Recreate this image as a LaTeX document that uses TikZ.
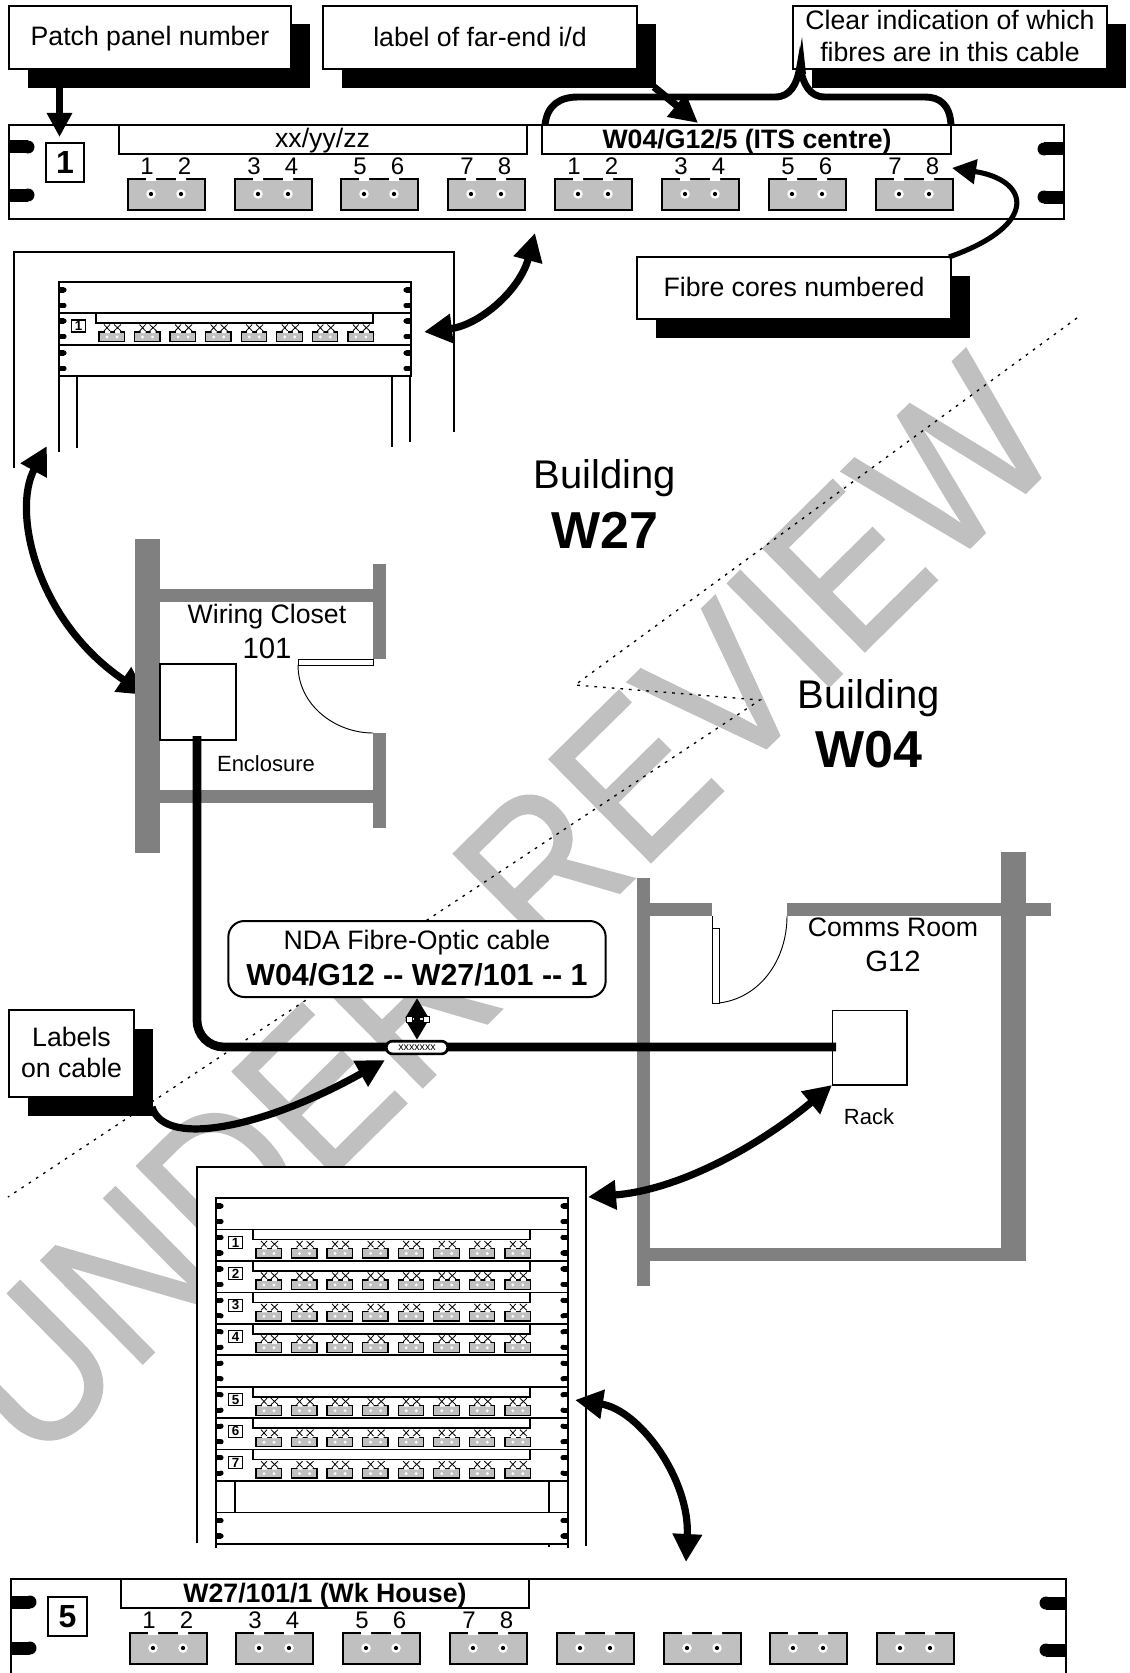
\documentclass[tikz,border=0pt]{standalone}
\usepackage{fontspec}
\setmainfont{Liberation Sans}
\newfontfamily\wmfont[FakeBold=1.2]{Liberation Sans}
\usetikzlibrary{arrows.meta}
\definecolor{wall}{HTML}{808080}
\definecolor{mark}{HTML}{C0C0C0}
\definecolor{port}{HTML}{C0C0C0}
\newcommand\fsz[1]{\fontsize{#1}{#1}\selectfont}
\tikzset{
  x=0.75pt,y=-0.75pt,
  labbox/.style={draw=black,fill=white,line width=0.8pt,inner sep=0pt},
  labtext/.style={inner sep=0pt,align=center,font=\fontsize{20}{23.5}\selectfont},
  stripbox/.style={draw=black,fill=white,line width=1.5pt,inner sep=0pt},
  txt/.style={inner sep=0pt,align=center},
  bigarrow/.style={line width=5.4pt,-{Triangle[length=21pt,width=21pt]}},
  dblarrow/.style={line width=5.4pt,{Triangle[length=21pt,width=21pt]}-{Triangle[length=21pt,width=21pt]}},
  railline/.style={line width=1pt},
  rackline/.style={line width=1.2pt},
}
% name x1 y1 x2 y2 text text-centre-y
\newcommand\shbox[7]{%
  \fill[black] ({#2+19},{#3+18.5}) rectangle ({#4+19},{#5+19});
  \pgfmathsetmacro\bw{(#4-#2)*.75}\pgfmathsetmacro\bh{(#5-#3)*.75}
  \node[labbox,minimum width=\bw pt,minimum height=\bh pt] (#1) at ({(#2+#4)/2},{(#3+#5)/2}) {};
  \node[labtext] (#1T) at ({(#2+#4)/2},#7) {#6};}
% large connector
\newcommand\bigport[2]{%
  \draw[fill=port,line width=1.6pt] (#1,#2) rectangle ({#1+77},{#2+31});
  \fill[white] ({#1+18},{#2-1.5}) rectangle ({#1+28},{#2+2}) ({#1+48},{#2-1.5}) rectangle ({#1+58},{#2+2});
  \foreach \h in {23,53}{\fill[white] ({#1+\h},{#2+15}) circle[radius=3.6pt];\fill[black] ({#1+\h},{#2+15}) circle[radius=1.6pt];}}
\newcommand\ear[5]{%
  \fill ({#1},{#2-#5}) rectangle ({#1+#3*#4},{#2+#5});
  \fill ({#1+#3*#4},{#2}) circle[radius=#5*0.75pt];}
\newcommand\bayears[3]{%
  \foreach \e in {8,23.5}{\ear{#1}{#3+\e}{1}{5}{2.6}\ear{#2}{#3+\e}{-1}{5}{2.6}}}
\newcommand\minibay[3]{%
  \node[draw=black,line width=0.8pt,fill=white,inner sep=0pt,minimum width=10pt,minimum height=9pt,font=\bfseries\fsz{10}] (mini#3x#1) at ({#1+19.5},{#2+13}) {#3};
  \draw[fill=white,line width=1.2pt] ({#1+37},{#2}) rectangle ({#1+314},{#2+10});
  \foreach \i in {0,...,7}{
    \pgfmathsetmacro\xx{#1+40+35.55*\i}
    \draw[line width=0.6pt] ({\xx+5},{#2+11.5}) -- ({\xx+11},{#2+18}) ({\xx+11},{#2+11.5}) -- ({\xx+5},{#2+18});
    \draw[line width=0.6pt] ({\xx+15},{#2+11.5}) -- ({\xx+22},{#2+18}) ({\xx+22},{#2+11.5}) -- ({\xx+15},{#2+18});
    \draw[fill=port,line width=1pt] ({\xx},{#2+19}) rectangle ({\xx+25.5},{#2+28.5});
    \fill[white] ({\xx+6},{#2+18}) rectangle ({\xx+11},{#2+20}) ({\xx+16},{#2+18}) rectangle ({\xx+21},{#2+20});
    \fill[white] ({\xx+8},{#2+24}) circle[radius=1.2pt] ({\xx+18},{#2+24}) circle[radius=1.2pt];
  }}
\begin{document}
\begin{tikzpicture}
\useasboundingbox (0,0) rectangle (1129,1673);
\fill[white] (0,0) rectangle (1129,1673);
% watermark
\node[text=mark,inner sep=0pt,rotate=44.6,font=\wmfont\fontsize{157}{157}\selectfont] (wm) at (502,909) {\scalebox{0.89}[1]{UNDER REVIEW}};
% dotted boundary
\coordinate (d1) at (1077,318);\coordinate (d2) at (575,685);\coordinate (d3) at (760,700);\coordinate (d4) at (8,1197);
\draw[line width=1pt,dash pattern=on 2pt off 4.5pt] (d1) -- (d2) -- (d3) -- (d4);

% callout boxes
\shbox{bpatch}{9}{6}{291}{69}{Patch panel number}{39}
\shbox{blabel}{323}{6}{637}{69}{label of far-end i/d}{37}
\shbox{bclear}{793}{6}{1107}{69}{Clear indication of which\\fibres are in this cable}{36}

% top panel
\draw[fill=white,line width=1.5pt] (9,125) rectangle (1064,219);
\ear{9}{147}{1}{19}{6.5}\ear{9}{195}{1}{19}{6.5}
\ear{1064}{149}{-1}{20}{6.5}\ear{1064}{197}{-1}{20}{6.5}
\node[stripbox,minimum width=306pt,minimum height=22pt] (strip1) at (322.5,139.5) {};
\node[txt,font=\fsz{20}] (strip1T) at (322.5,140.5) {xx/yy/zz};
\node[stripbox,minimum width=306.5pt,minimum height=22pt] (strip2) at (746.5,139.5) {};
\node[txt,font=\bfseries\fsz{20}] (strip2T) at (747,141.5) {W04/G12/5 (ITS centre)};
\node[draw=black,line width=1.5pt,fill=white,inner sep=0pt,minimum width=29pt,minimum height=29pt,font=\bfseries\fsz{24}] (num1) at (65,162.5) {1};
\foreach \p [count=\c] in {128,235,341,448,555,662,769,876}{\bigport{\p}{179}
  \pgfmathtruncatemacro\na{2*mod(\c-1,4)+1}\pgfmathtruncatemacro\nb{\na+1}
  \node[txt,font=\fsz{18}] (ta\c) at ({\p+19},166.5) {\na};
  \node[txt,font=\fsz{18}] (tb\c) at ({\p+56.5},166.5) {\nb};}

% bracket
\coordinate (brL) at (545,125);\coordinate (brR) at (951,125);\coordinate (brT) at (802,37);
\draw[line width=5.2pt,line cap=butt] (brL) .. controls (547,105) and (560,97) .. (578,97) -- (775,97) .. controls (790,97) and (797,85) .. (800,66) .. controls (803,85) and (810,97) .. (825,97) -- (925,97) .. controls (940,97) and (950,105) .. (brR);
\fill (brT) -- (796,74) -- (806,74) -- cycle;

% top-panel arrows
\coordinate (aPatch) at (59.5,87);\coordinate (aPatchT) at (59.5,137);
\draw[line width=4.8pt,-{Triangle[length=18pt,width=18pt]}] (aPatch) -- (aPatchT);
\coordinate (aLab) at (654,87);\coordinate (aLabT) at (698,123);
\draw[bigarrow] (aLab) -- (aLabT);

% fibre box
\shbox{bfibre}{637}{257}{951}{319}{Fibre cores numbered}{287}
\coordinate (aFib) at (949,257);\coordinate (aFibT) at (952,168);
\draw[line width=3.8pt,-{Triangle[length=18pt,width=18pt]}] (aFib) .. controls (1040,225) and (1030,180) .. (aFibT);

% upper rack in enclosure
\draw[fill=white,line width=1.5pt] (14,468) -- (14,252) -- (454,252) -- (454,432);
\draw[rackline] (59,282) rectangle (411,376) (59,313) -- (411,313);
\draw[line width=1.5pt] (59,345) -- (411,345);
\foreach \y in {282,313,345}{\bayears{59}{411}{\y}}
\minibay{59}{313}{1}
\draw[railline] (59,376) -- (59,452) (77,376) -- (77,448) (392,376) -- (392,447) (410,376) -- (410,442);
\coordinate (uA) at (424,332);\coordinate (uB) at (535,233);
\draw[dblarrow] (uA) .. controls (480,325) and (520,290) .. (uB);
\coordinate (vA) at (47,446);\coordinate (vB) at (146,695);
\draw[dblarrow] (vA) .. controls (12,510) and (35,620) .. (vB);

% buildings
\node[txt,font=\fsz{30}] (b27a) at (605,478) {Building};
\node[txt,font=\bfseries\fsz{39}] (b27b) at (605,530) {W27};
\node[txt,font=\fsz{30}] (b04a) at (869,698) {Building};
\node[txt,font=\bfseries\fsz{39}] (b04b) at (869,750) {W04};

% wiring closet
\fill[wall] (135,539) rectangle (160,853);
\fill[wall] (160,589) rectangle (373,602);
\fill[wall] (373,564) rectangle (386,659);
\fill[wall] (373,733) rectangle (386,828);
\fill[wall] (160,790) rectangle (373,803);
\draw[fill=white,line width=0.7pt] (298,659) rectangle (373,665);
\draw[line width=0.7pt] (298,665) .. controls (298,705) and (335,733) .. (373,733);
\node[draw=black,line width=1pt,fill=white,minimum width=57pt,minimum height=57pt,inner sep=0pt] (encl) at (198,702) {};
\node[txt,font=\fsz{20}] (closet1) at (267,617) {Wiring Closet};
\node[txt,font=\fsz{22}] (closet2) at (267,648) {101};
\node[txt,font=\fsz{16.5}] (encltxt) at (266,764) {Enclosure};

% comms room
\fill[wall] (637,878) rectangle (650,1286);
\fill[wall] (650,903) rectangle (712,916);
\fill[wall] (787,903) rectangle (1051,916);
\fill[wall] (1001,852) rectangle (1026,1261);
\fill[wall] (650,1248) rectangle (1001,1261);
\draw[fill=white,line width=0.7pt] (712,928) rectangle (719,1003);
\draw[line width=0.7pt] (712,916) -- (712,928);
\draw[line width=0.7pt] (719,1003) .. controls (760,998) and (787,960) .. (787,916);
\node[draw=black,line width=1pt,fill=white,minimum width=56pt,minimum height=56pt,inner sep=0pt] (rackbox) at (869.5,1047.5) {};
\node[txt,font=\fsz{20}] (room1) at (893,927) {Comms Room};
\node[txt,font=\fsz{22}] (room2) at (893,961) {G12};
\node[txt,font=\fsz{16.5}] (racktxt) at (869,1117) {Rack};

% cable
\coordinate (cabA) at (197,736);\coordinate (cabB) at (836,1047);
\draw[line width=6.6pt,rounded corners=20pt] (cabA) -- (197,1047) -- (cabB);
\node[draw=black,fill=white,line width=2pt,rounded corners=4.5pt,minimum width=46pt,minimum height=9.5pt,inner sep=0pt,font=\fsz{8}] (tag) at (417,1047.5) {xxxxxxx};

% NDA box
\node[draw=black,fill=white,line width=1.5pt,rounded corners=12pt,minimum width=283pt,minimum height=57pt,inner sep=0pt] (nda) at (417,959) {};
\node[txt,font=\fsz{20}] (nda1) at (417,943) {NDA Fibre-Optic cable};
\node[txt,font=\bfseries\fsz{22.8}] (nda2) at (417,975) {W04/G12 -{}- W27/101 -{}- 1};
\draw[line width=3.8pt,{Triangle[length=15pt,width=16.5pt]}-{Triangle[length=15pt,width=16.5pt]}] (nda.south) -- (tag.north);
\node[draw=black,fill=white,line width=0.4pt,minimum size=4.5pt,inner sep=0pt] (hd1) at (409,1019) {};
\node[draw=black,fill=white,line width=0.4pt,minimum size=4.5pt,inner sep=0pt] (hd2) at (426,1019) {};

% labels on cable
\shbox{blabels}{9}{1010}{134}{1097}{Labels\\on cable}{1052.5}
\coordinate (aCab) at (152,1107);\coordinate (aCabT) at (385,1060);
\draw[bigarrow] (aCab) .. controls (165,1150) and (270,1125) .. (aCabT);

% lower rack
\fill[white] (197,1167) rectangle (586,1543);
\draw[line width=1.5pt] (197,1543) -- (197,1167) -- (586,1167) -- (586,1546);
\draw[rackline] (216,1548) -- (216,1198) -- (568,1198) -- (568,1548);
\foreach \n in {1,...,11}{\pgfmathsetmacro\yy{1198+31.45*\n}\draw[rackline] (216,\yy) -- (568,\yy);}
\foreach \n in {0,...,8,10}{\pgfmathsetmacro\yy{1198+31.45*\n}\bayears{216}{568}{\yy}}
\minibay{216}{1229.45}{1}
\minibay{216}{1260.9}{2}
\minibay{216}{1292.35}{3}
\minibay{216}{1323.8}{4}
\minibay{216}{1386.7}{5}
\minibay{216}{1418.15}{6}
\minibay{216}{1449.6}{7}
\draw[railline] (235,1481) -- (235,1512.5) (549,1481) -- (549,1512.5) (549,1544) -- (549,1547);
\coordinate (rA) at (832,1085);\coordinate (rB) at (588,1197);
\draw[dblarrow] (rA) .. controls (760,1145) and (680,1190) .. (rB);
\coordinate (sA) at (575,1400);\coordinate (sB) at (686,1562);
\draw[dblarrow] (sA) .. controls (640,1410) and (690,1480) .. (sB);

% bottom panel
\draw[fill=white,line width=1.5pt] (11,1673) -- (11,1579) -- (1066,1579) -- (1066,1673);
\ear{11}{1602}{1}{19}{6.5}\ear{11}{1648}{1}{19}{6.5}
\ear{1066}{1603}{-1}{20}{6.5}\ear{1066}{1650}{-1}{20}{6.5}
\node[stripbox,minimum width=306pt,minimum height=22pt] (strip3) at (325,1593.5) {};
\node[txt,font=\bfseries\fsz{20}] (strip3T) at (325,1595.5) {W27/101/1 (Wk House)};
\node[draw=black,line width=1.5pt,fill=white,inner sep=0pt,minimum width=29pt,minimum height=29pt,font=\bfseries\fsz{24}] (num5) at (67.5,1616.5) {5};
\foreach \p [count=\c] in {130,236,343,450,557,664,770,877}{\bigport{\p}{1633}}
\foreach \p [count=\c] in {130,236,343,450}{
  \pgfmathtruncatemacro\na{2*\c-1}\pgfmathtruncatemacro\nb{2*\c}
  \node[txt,font=\fsz{18}] (tc\c) at ({\p+19},1620.5) {\na};
  \node[txt,font=\fsz{18}] (td\c) at ({\p+56.5},1620.5) {\nb};}
\end{tikzpicture}
\end{document}
